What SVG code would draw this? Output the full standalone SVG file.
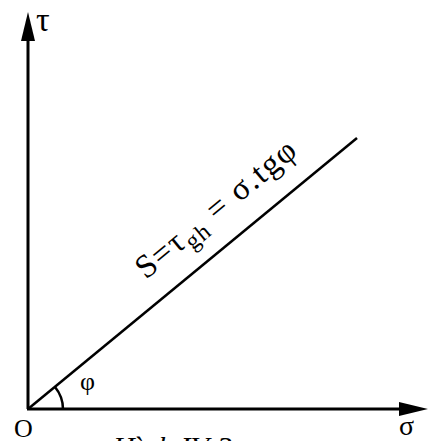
<svg xmlns="http://www.w3.org/2000/svg" width="430" height="441" viewBox="0 0 430 441">
<style>
.ax{stroke:#000;stroke-width:3;fill:none}
.ln{stroke:#000;stroke-width:2.5;fill:none}
.t{font-family:"Liberation Serif","Times New Roman",serif;fill:#000}
</style>
<rect width="430" height="441" fill="#fff"/>
<g id="connectors">
<line class="ax" x1="28" y1="409" x2="28" y2="38"/>
<polygon points="28,12 21,41 35,41" fill="#000"/>
<line class="ax" x1="27" y1="409" x2="402" y2="409"/>
<polygon points="428,409 399,402 399,416" fill="#000"/>
<line class="ln" x1="28" y1="409" x2="357" y2="138"/>
<path class="ln" d="M 55,387 A 35 35 0 0 1 63,409" stroke-width="2"/>
</g>
<g id="label-tau"><text class="t" x="36" y="31" font-size="34">τ</text></g>
<g id="label-sigma"><text class="t" x="399" y="435" font-size="28">σ</text></g>
<g id="label-O"><text class="t" x="14" y="437" font-size="26">O</text></g>
<g id="label-phi"><text class="t" x="80" y="390" font-size="26">φ</text></g>
<g id="formula"><text class="t" transform="translate(146,280) rotate(-39.5)" font-size="33" textLength="198" lengthAdjust="spacing">S=τ<tspan font-size="24" dy="7">gh</tspan><tspan dy="-7"> = σ.tgφ</tspan></text></g>
<g id="caption"><text class="t" x="113" y="457" font-size="30" font-style="italic">Hình IV-3</text></g>
</svg>
